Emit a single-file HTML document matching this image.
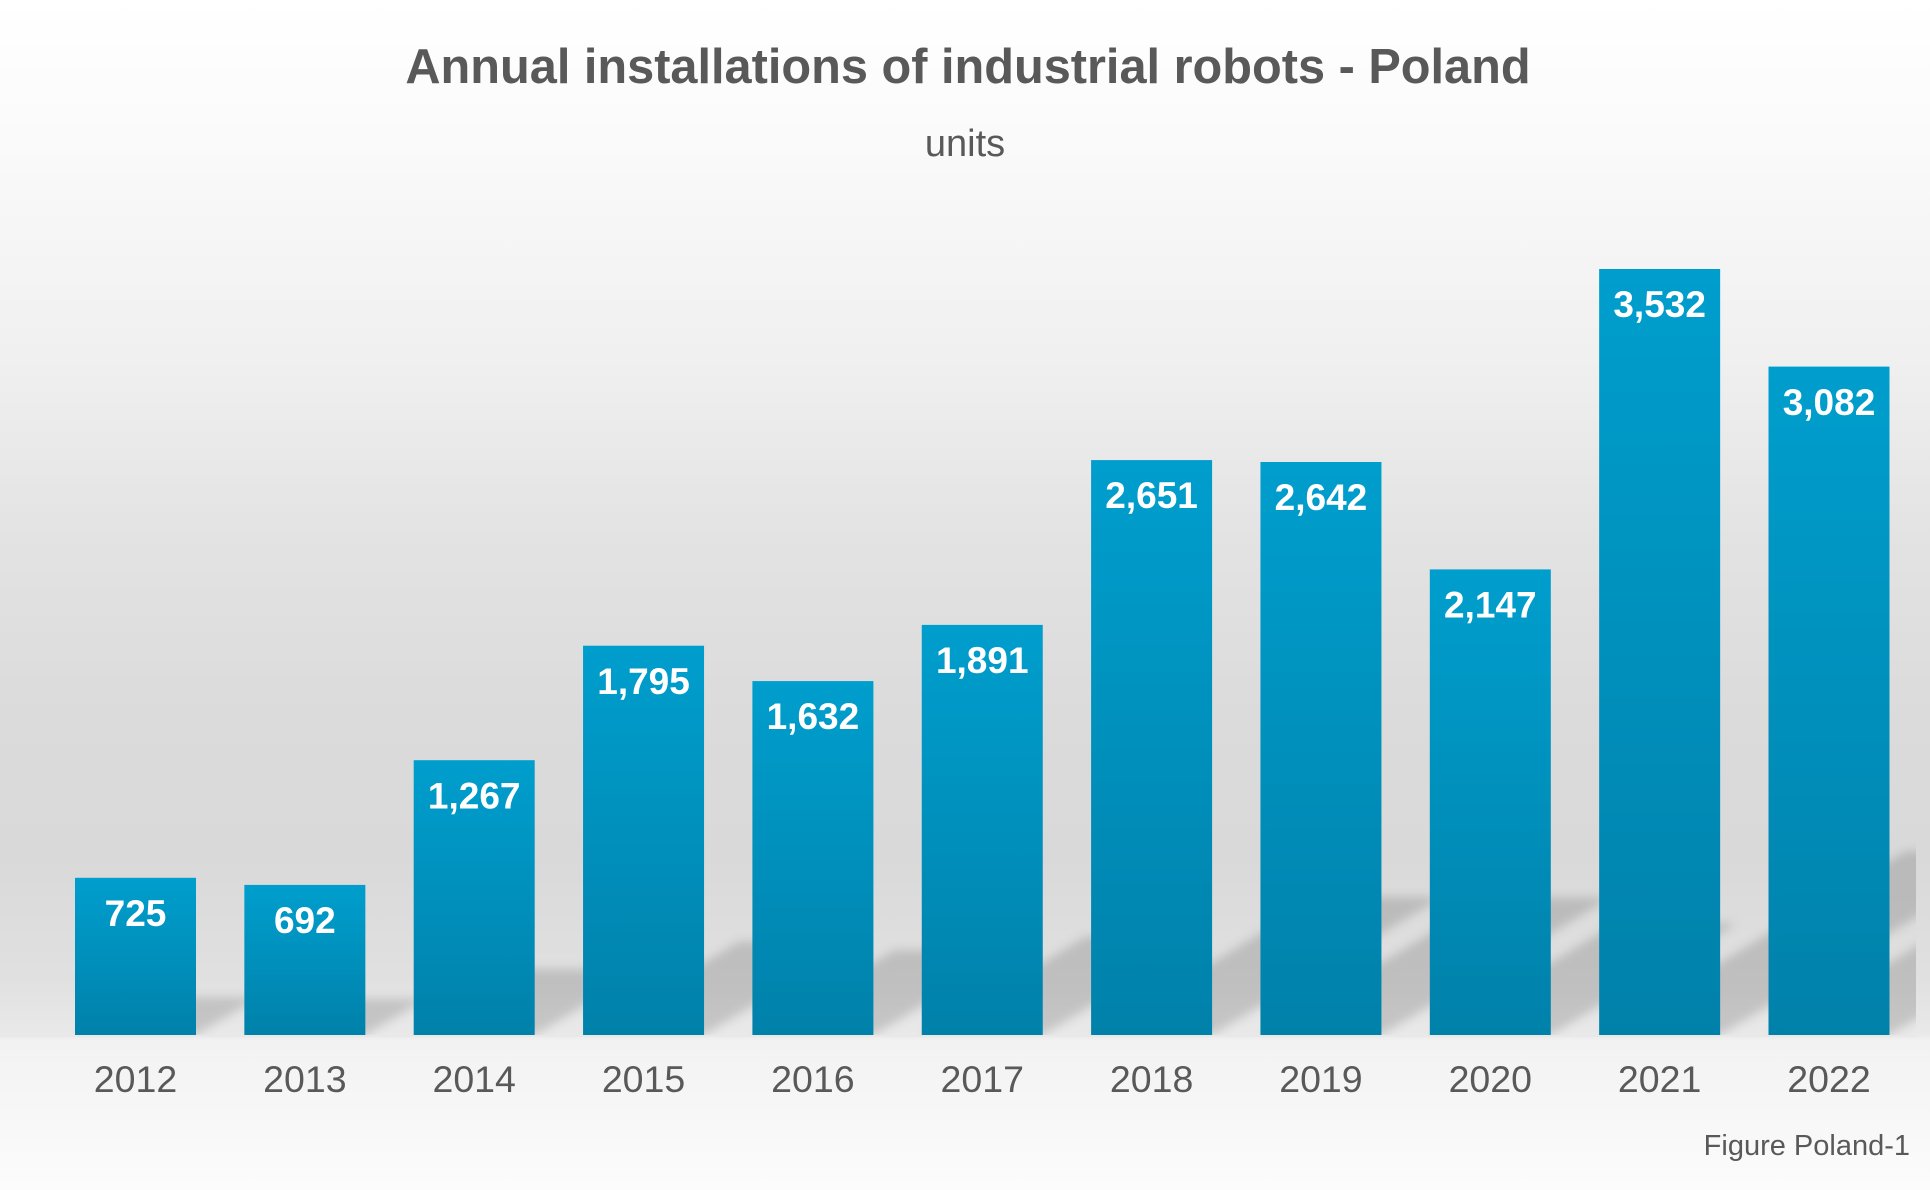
<!DOCTYPE html>
<html>
<head>
<meta charset="utf-8">
<style>
  html, body { margin: 0; padding: 0; background: #ffffff; }
  svg { display: block; }
  text { font-family: "Liberation Sans", Arial, sans-serif; }
</style>
</head>
<body>
<svg width="1930" height="1190" viewBox="0 0 1930 1190" xmlns="http://www.w3.org/2000/svg">
  <defs>
    <linearGradient id="bg2" x1="0" y1="0" x2="0" y2="1190" gradientUnits="userSpaceOnUse">
      <stop offset="0" stop-color="#ffffff"/>
      <stop offset="0.12" stop-color="#fafafa"/>
      <stop offset="0.30" stop-color="#f0f0f0"/>
      <stop offset="0.45" stop-color="#e3e3e3"/>
      <stop offset="0.60" stop-color="#dbdbdb"/>
      <stop offset="0.72" stop-color="#d9d9d9"/>
      <stop offset="0.82" stop-color="#e0e0e0"/>
      <stop offset="0.869" stop-color="#e9e9e9"/>
      <stop offset="0.875" stop-color="#f2f2f2"/>
      <stop offset="1" stop-color="#fcfcfc"/>
    </linearGradient>
    <linearGradient id="bar" x1="0" y1="0" x2="0" y2="1">
      <stop offset="0" stop-color="#009ECD"/>
      <stop offset="1" stop-color="#0081AA"/>
    </linearGradient>
    <filter id="blur" x="-20%" y="-20%" width="140%" height="140%">
      <feGaussianBlur stdDeviation="5"/>
    </filter>
    <clipPath id="plotclip">
      <rect x="0" y="0" width="1916" height="1036"/>
    </clipPath>
  </defs>

  <rect x="0" y="0" width="1930" height="1190" fill="url(#bg2)"/>

  <!-- Title -->
  <text x="968" y="83" font-size="48.7" font-weight="bold" fill="#595959" text-anchor="middle">Annual installations of industrial robots - Poland</text>
  <text x="965" y="156" font-size="38" fill="#595959" text-anchor="middle">units</text>

  <!-- Shadows -->
  <g clip-path="url(#plotclip)" fill="#000" fill-opacity="0.15" filter="url(#blur)">
    <polygon points="75,1035 196,1035 258.9,997.3 137.9,997.3"/>
    <polygon points="244.35,1035 365.35,1035 425.4,999 304.4,999"/>
    <polygon points="413.7,1035 534.7,1035 644.6,969.1 523.6,969.1"/>
    <polygon points="583.05,1035 704.05,1035 859.8,941.6 738.8,941.6"/>
    <polygon points="752.4,1035 873.4,1035 1015,950.1 894,950.1"/>
    <polygon points="921.75,1035 1042.75,1035 1206.8,936.6 1085.8,936.6"/>
    <polygon points="1091.1,1035 1212.1,1035 1442.1,897 1321.1,897"/>
    <polygon points="1260.45,1035 1381.45,1035 1610.7,897.5 1489.7,897.5"/>
    <polygon points="1429.8,1035 1550.8,1035 1737,923.3 1616,923.3"/>
    <polygon points="1599.15,1035 1720.15,1035 2026.6,851.2 1905.6,851.2"/>
    <polygon points="1768.5,1035 1889.5,1035 2156.9,874.6 2035.9,874.6"/>
  </g>

  <!-- plot bottom line -->
  <rect x="0" y="1035" width="1916" height="2" fill="#e8e8e8"/>

  <!-- Bars -->
  <g fill="url(#bar)">
    <rect x="75" y="877.8" width="121" height="157.2"/>
    <rect x="244.35" y="884.9" width="121" height="150.1"/>
    <rect x="413.7" y="760.2" width="121" height="274.8"/>
    <rect x="583.05" y="645.7" width="121" height="389.3"/>
    <rect x="752.4" y="681.1" width="121" height="353.9"/>
    <rect x="921.75" y="624.9" width="121" height="410.1"/>
    <rect x="1091.1" y="460.1" width="121" height="574.9"/>
    <rect x="1260.45" y="462" width="121" height="573"/>
    <rect x="1429.8" y="569.4" width="121" height="465.6"/>
    <rect x="1599.15" y="269" width="121" height="766"/>
    <rect x="1768.5" y="366.6" width="121" height="668.4"/>
  </g>

  <!-- Value labels -->
  <g font-size="37" font-weight="bold" fill="#ffffff" text-anchor="middle">
    <text x="135.5" y="926">725</text>
    <text x="304.85" y="933">692</text>
    <text x="474.2" y="808.3">1,267</text>
    <text x="643.55" y="693.8">1,795</text>
    <text x="812.9" y="729.2">1,632</text>
    <text x="982.25" y="673">1,891</text>
    <text x="1151.6" y="508.2">2,651</text>
    <text x="1320.95" y="510.1">2,642</text>
    <text x="1490.3" y="617.5">2,147</text>
    <text x="1659.65" y="317.2">3,532</text>
    <text x="1829" y="414.8">3,082</text>
  </g>

  <!-- Year labels -->
  <g font-size="37.5" fill="#595959" text-anchor="middle">
    <text x="135.5" y="1092">2012</text>
    <text x="304.85" y="1092">2013</text>
    <text x="474.2" y="1092">2014</text>
    <text x="643.55" y="1092">2015</text>
    <text x="812.9" y="1092">2016</text>
    <text x="982.25" y="1092">2017</text>
    <text x="1151.6" y="1092">2018</text>
    <text x="1320.95" y="1092">2019</text>
    <text x="1490.3" y="1092">2020</text>
    <text x="1659.65" y="1092">2021</text>
    <text x="1829" y="1092">2022</text>
  </g>

  <text x="1910" y="1155" font-size="29" fill="#595959" text-anchor="end">Figure Poland-1</text>
</svg>
</body>
</html>
